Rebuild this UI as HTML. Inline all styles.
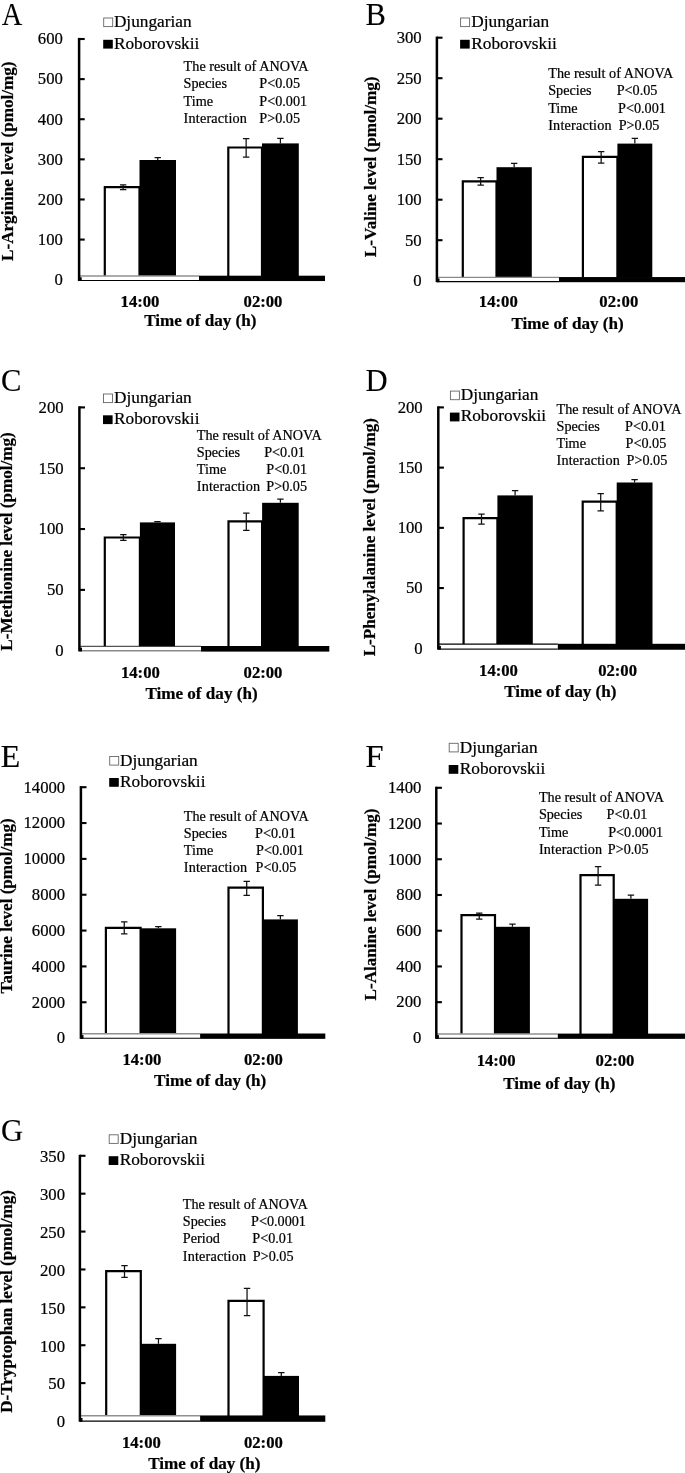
<!DOCTYPE html>
<html lang="en">
<head>
<meta charset="utf-8">
<title>Figure: amino acid levels by time of day</title>
<style>
html,body{margin:0;padding:0;background:#fff;}
body{width:685px;height:1473px;overflow:hidden;}
svg{display:block;}
text{font-family:"Liberation Serif","Times New Roman",Times,serif;fill:#000;stroke:#000;stroke-width:0.22px;}
#fig{will-change:transform;transform:translateZ(0);}
.pl{font-size:30.6px;stroke-width:0.1px;}
.r16{font-size:16.7px;}
.r17{font-size:17.3px;}
.r14{font-size:14.2px;}
.b16{font-size:16.7px;font-weight:bold;}
.b17{font-size:17.1px;font-weight:bold;}
.yl{font-size:17.1px;font-weight:bold;}
.eb{stroke:#111;stroke-width:1.25;fill:none;}
</style>
</head>
<body>
<svg id="fig" width="685" height="1473" viewBox="0 0 685 1473">
<rect x="0" y="0" width="685" height="1473" fill="#fff"/>
<g id="panel-A">
<text transform="translate(1.7,24.8) scale(0.93,1)" class="pl">A</text>
<text transform="translate(12.8,161.2) rotate(-90)" text-anchor="middle" class="yl">L-Arginine level (pmol/mg)</text>
<path d="M104.8 276.3V187.1H139.5V276.3" fill="#fff" stroke="#000" stroke-width="2.2" stroke-linejoin="miter"/>
<rect x="139.5" y="160" width="36.5" height="116.3" fill="#000"/>
<path d="M228.3 276.3V147.5H262V276.3" fill="#fff" stroke="#000" stroke-width="2.2" stroke-linejoin="miter"/>
<rect x="262" y="143.4" width="36.8" height="132.9" fill="#000"/>
<path d="M123.15 184.9V189.7M119.95 184.9h6.4M119.95 189.7h6.4" class="eb"/>
<path d="M157.75 157.5V160M154.55 157.5h6.4" class="eb"/>
<path d="M246.15 138.5V157M242.95 138.5h6.4M242.95 157h6.4" class="eb"/>
<path d="M280.4 138.4V143.4M277.2 138.4h6.4" class="eb"/>
<rect x="79.1" y="276" width="119.9" height="4.5" fill="#fff"/>
<path d="M79.1 276H199" stroke="#909090" stroke-width="1.3" fill="none"/>
<path d="M79.1 280.5H199" stroke="#000" stroke-width="1.1" fill="none"/>
<rect x="199" y="275.7" width="126" height="5.35" fill="#000"/>
<rect x="79.1" y="277.3" width="2.6" height="3.7" fill="#000"/>
<path d="M79.1 37.9V281.05" stroke="#000" stroke-width="2.5" fill="none"/>
<text x="62.9" y="285" text-anchor="end" class="r16">0</text>
<path d="M79.1 239.58h5.6" stroke="#000" stroke-width="2.1" fill="none"/>
<text x="62.9" y="244.88" text-anchor="end" class="r16">100</text>
<path d="M79.1 199.47h5.6" stroke="#000" stroke-width="2.1" fill="none"/>
<text x="62.9" y="204.77" text-anchor="end" class="r16">200</text>
<path d="M79.1 159.35h5.6" stroke="#000" stroke-width="2.1" fill="none"/>
<text x="62.9" y="164.65" text-anchor="end" class="r16">300</text>
<path d="M79.1 119.23h5.6" stroke="#000" stroke-width="2.1" fill="none"/>
<text x="62.9" y="124.53" text-anchor="end" class="r16">400</text>
<path d="M79.1 79.12h5.6" stroke="#000" stroke-width="2.1" fill="none"/>
<text x="62.9" y="84.42" text-anchor="end" class="r16">500</text>
<path d="M79.1 39h5.6" stroke="#000" stroke-width="2.1" fill="none"/>
<text x="62.9" y="44.3" text-anchor="end" class="r16">600</text>
<text x="140" y="307.1" text-anchor="middle" class="b16">14:00</text>
<text x="263" y="307.1" text-anchor="middle" class="b16">02:00</text>
<text x="200.3" y="326.3" text-anchor="middle" class="b17">Time of day (h)</text>
<rect x="103.7" y="18" width="9" height="8.6" fill="#fff" stroke="#666" stroke-width="0.9"/>
<text x="113.9" y="27.2" class="r17">Djungarian</text>
<rect x="103.2" y="39.8" width="9.6" height="8.8" fill="#000"/>
<text x="113.9" y="48.6" class="r17">Roborovskii</text>
<text x="183.6" y="70.7" class="r14" textLength="125">The result of ANOVA</text>
<text x="183.6" y="88.1" class="r14">Species</text>
<text x="259.3" y="88.1" class="r14">P&lt;0.05</text>
<text x="183.6" y="105.5" class="r14">Time</text>
<text x="259.3" y="105.5" class="r14">P&lt;0.001</text>
<text x="183.6" y="122.9" class="r14" textLength="63.3">Interaction</text>
<text x="259.3" y="122.9" class="r14">P&gt;0.05</text>
</g>
<g id="panel-B">
<text transform="translate(365.5,24.9) scale(1,1)" class="pl">B</text>
<text transform="translate(375.5,166.8) rotate(-90)" text-anchor="middle" class="yl">L-Valine level (pmol/mg)</text>
<path d="M462.8 277.65V181.3H496.5V277.65" fill="#fff" stroke="#000" stroke-width="2.2" stroke-linejoin="miter"/>
<rect x="496.5" y="167.2" width="35.3" height="110.45" fill="#000"/>
<path d="M582.9 277.65V156.8H617.4V277.65" fill="#fff" stroke="#000" stroke-width="2.2" stroke-linejoin="miter"/>
<rect x="617.4" y="143.6" width="34.9" height="134.05" fill="#000"/>
<path d="M480.65 177.5V185.1M477.45 177.5h6.4M477.45 185.1h6.4" class="eb"/>
<path d="M514.15 163.4V167.2M510.95 163.4h6.4" class="eb"/>
<path d="M601.15 151.5V163.1M597.95 151.5h6.4M597.95 163.1h6.4" class="eb"/>
<path d="M634.85 138.4V143.6M631.65 138.4h6.4" class="eb"/>
<rect x="436.9" y="277.35" width="122.1" height="4.3" fill="#fff"/>
<path d="M436.9 277.35H559" stroke="#8a8a8a" stroke-width="1.1" fill="none"/>
<path d="M436.9 281.65H559" stroke="#000" stroke-width="1.1" fill="none"/>
<rect x="559" y="277.05" width="126" height="5.15" fill="#000"/>
<rect x="436.9" y="278.45" width="2.6" height="3.7" fill="#000"/>
<path d="M436.9 36.6V282.2" stroke="#000" stroke-width="2.5" fill="none"/>
<text x="421.7" y="286" text-anchor="end" class="r16">0</text>
<path d="M436.9 240.2h5.6" stroke="#000" stroke-width="2.1" fill="none"/>
<text x="421.7" y="245.5" text-anchor="end" class="r16">50</text>
<path d="M436.9 199.7h5.6" stroke="#000" stroke-width="2.1" fill="none"/>
<text x="421.7" y="205" text-anchor="end" class="r16">100</text>
<path d="M436.9 159.2h5.6" stroke="#000" stroke-width="2.1" fill="none"/>
<text x="421.7" y="164.5" text-anchor="end" class="r16">150</text>
<path d="M436.9 118.7h5.6" stroke="#000" stroke-width="2.1" fill="none"/>
<text x="421.7" y="124" text-anchor="end" class="r16">200</text>
<path d="M436.9 78.2h5.6" stroke="#000" stroke-width="2.1" fill="none"/>
<text x="421.7" y="83.5" text-anchor="end" class="r16">250</text>
<path d="M436.9 37.7h5.6" stroke="#000" stroke-width="2.1" fill="none"/>
<text x="421.7" y="43" text-anchor="end" class="r16">300</text>
<text x="498.3" y="307.4" text-anchor="middle" class="b16">14:00</text>
<text x="618.8" y="307.4" text-anchor="middle" class="b16">02:00</text>
<text x="567.6" y="329" text-anchor="middle" class="b17">Time of day (h)</text>
<rect x="460.6" y="18" width="9" height="8.6" fill="#fff" stroke="#666" stroke-width="0.9"/>
<text x="471.3" y="27.2" class="r17">Djungarian</text>
<rect x="460.1" y="39.8" width="9.6" height="8.8" fill="#000"/>
<text x="471.3" y="48.6" class="r17">Roborovskii</text>
<text x="548.2" y="77.7" class="r14" textLength="125">The result of ANOVA</text>
<text x="548.2" y="95.1" class="r14">Species</text>
<text x="616.7" y="95.1" class="r14">P&lt;0.05</text>
<text x="548.2" y="112.5" class="r14">Time</text>
<text x="618" y="112.5" class="r14">P&lt;0.001</text>
<text x="548.2" y="129.9" class="r14" textLength="63.3">Interaction</text>
<text x="618.7" y="129.9" class="r14">P&gt;0.05</text>
</g>
<g id="panel-C">
<text transform="translate(0.9,391.2) scale(1,1)" class="pl">C</text>
<text transform="translate(12.0,541.5) rotate(-90)" text-anchor="middle" class="yl">L-Methionine level (pmol/mg)</text>
<path d="M104.8 646.6V537.5H139.9V646.6" fill="#fff" stroke="#000" stroke-width="2.2" stroke-linejoin="miter"/>
<rect x="139.9" y="522.4" width="35.1" height="124.2" fill="#000"/>
<path d="M228.5 646.6V521.3H262.1V646.6" fill="#fff" stroke="#000" stroke-width="2.2" stroke-linejoin="miter"/>
<rect x="262.1" y="502.8" width="36.6" height="143.8" fill="#000"/>
<path d="M123.35 534.7V540.3M120.15 534.7h6.4M120.15 540.3h6.4" class="eb"/>
<path d="M157.45 521.5V522.4M154.25 521.5h6.4" class="eb"/>
<path d="M246.3 513V530.3M243.1 513h6.4M243.1 530.3h6.4" class="eb"/>
<path d="M280.4 499.1V502.8M277.2 499.1h6.4" class="eb"/>
<rect x="79.4" y="646.3" width="121.6" height="4.55" fill="#fff"/>
<path d="M79.4 646.3H201" stroke="#111" stroke-width="0.9" fill="none"/>
<path d="M79.4 650.85H201" stroke="#8a8a8a" stroke-width="1.5" fill="none"/>
<rect x="201" y="646" width="128.3" height="5.6" fill="#000"/>
<rect x="79.4" y="647.65" width="2.6" height="3.7" fill="#000"/>
<path d="M79.4 406.3V651.4" stroke="#000" stroke-width="2.5" fill="none"/>
<text x="63.6" y="656" text-anchor="end" class="r16">0</text>
<path d="M79.4 589.88h5.6" stroke="#000" stroke-width="2.1" fill="none"/>
<text x="63.6" y="595.17" text-anchor="end" class="r16">50</text>
<path d="M79.4 529.05h5.6" stroke="#000" stroke-width="2.1" fill="none"/>
<text x="63.6" y="534.35" text-anchor="end" class="r16">100</text>
<path d="M79.4 468.23h5.6" stroke="#000" stroke-width="2.1" fill="none"/>
<text x="63.6" y="473.53" text-anchor="end" class="r16">150</text>
<path d="M79.4 407.4h5.6" stroke="#000" stroke-width="2.1" fill="none"/>
<text x="63.6" y="412.7" text-anchor="end" class="r16">200</text>
<text x="140.4" y="677.8" text-anchor="middle" class="b16">14:00</text>
<text x="263" y="677.8" text-anchor="middle" class="b16">02:00</text>
<text x="201.5" y="699.3" text-anchor="middle" class="b17">Time of day (h)</text>
<rect x="103.5" y="394" width="9" height="8.6" fill="#fff" stroke="#666" stroke-width="0.9"/>
<text x="114" y="403.2" class="r17">Djungarian</text>
<rect x="103" y="415.3" width="9.6" height="8.8" fill="#000"/>
<text x="114" y="424.1" class="r17">Roborovskii</text>
<text x="196.8" y="439.6" class="r14" textLength="125">The result of ANOVA</text>
<text x="196.8" y="456.8" class="r14">Species</text>
<text x="264.2" y="456.8" class="r14">P&lt;0.01</text>
<text x="196.8" y="474" class="r14">Time</text>
<text x="266.3" y="474" class="r14">P&lt;0.01</text>
<text x="196.8" y="491.2" class="r14" textLength="63.3">Interaction</text>
<text x="266.3" y="491.2" class="r14">P&gt;0.05</text>
</g>
<g id="panel-D">
<text transform="translate(365.6,391) scale(1,1)" class="pl">D</text>
<text transform="translate(375.2,537.15) rotate(-90)" text-anchor="middle" class="yl">L-Phenylalanine level (pmol/mg)</text>
<path d="M463.6 644.4V518.2H497.4V644.4" fill="#fff" stroke="#000" stroke-width="2.2" stroke-linejoin="miter"/>
<rect x="497.4" y="495.4" width="35.4" height="149" fill="#000"/>
<path d="M582.7 644.4V501.7H616.7V644.4" fill="#fff" stroke="#000" stroke-width="2.2" stroke-linejoin="miter"/>
<rect x="616.7" y="482.5" width="35.8" height="161.9" fill="#000"/>
<path d="M481.5 514V524M478.3 514h6.4M478.3 524h6.4" class="eb"/>
<path d="M515.1 490.6V495.4M511.9 490.6h6.4" class="eb"/>
<path d="M600.7 493.6V510.9M597.5 493.6h6.4M597.5 510.9h6.4" class="eb"/>
<path d="M634.6 479.5V482.5M631.4 479.5h6.4" class="eb"/>
<rect x="438.3" y="644.1" width="119.5" height="5" fill="#fff"/>
<path d="M438.3 644.1H557.8" stroke="#000" stroke-width="1.2" fill="none"/>
<path d="M438.3 649.1H557.8" stroke="#111" stroke-width="1.3" fill="none"/>
<rect x="557.8" y="643.8" width="127.2" height="5.95" fill="#000"/>
<rect x="438.3" y="645.9" width="2.6" height="3.7" fill="#000"/>
<path d="M438.3 406.3V649.65" stroke="#000" stroke-width="2.5" fill="none"/>
<text x="422.7" y="653.6" text-anchor="end" class="r16">0</text>
<path d="M438.3 588.07h5.6" stroke="#000" stroke-width="2.1" fill="none"/>
<text x="422.7" y="593.37" text-anchor="end" class="r16">50</text>
<path d="M438.3 527.85h5.6" stroke="#000" stroke-width="2.1" fill="none"/>
<text x="422.7" y="533.15" text-anchor="end" class="r16">100</text>
<path d="M438.3 467.62h5.6" stroke="#000" stroke-width="2.1" fill="none"/>
<text x="422.7" y="472.93" text-anchor="end" class="r16">150</text>
<path d="M438.3 407.4h5.6" stroke="#000" stroke-width="2.1" fill="none"/>
<text x="422.7" y="412.7" text-anchor="end" class="r16">200</text>
<text x="498.5" y="675.8" text-anchor="middle" class="b16">14:00</text>
<text x="617.6" y="675.8" text-anchor="middle" class="b16">02:00</text>
<text x="560.3" y="697.3" text-anchor="middle" class="b17">Time of day (h)</text>
<rect x="450.4" y="391.1" width="9" height="8.6" fill="#fff" stroke="#666" stroke-width="0.9"/>
<text x="460.7" y="400.3" class="r17">Djungarian</text>
<rect x="449.9" y="412.6" width="9.6" height="8.8" fill="#000"/>
<text x="460.7" y="421.4" class="r17">Roborovskii</text>
<text x="556.5" y="413.9" class="r14" textLength="125">The result of ANOVA</text>
<text x="556.5" y="431.05" class="r14">Species</text>
<text x="625.0" y="431.05" class="r14">P&lt;0.01</text>
<text x="556.5" y="448.2" class="r14">Time</text>
<text x="625.5" y="448.2" class="r14">P&lt;0.05</text>
<text x="556.5" y="465.35" class="r14" textLength="63.3">Interaction</text>
<text x="626.5" y="465.35" class="r14">P&gt;0.05</text>
</g>
<g id="panel-E">
<text transform="translate(0.4,766.9) scale(1.06,1)" class="pl">E</text>
<text transform="translate(11.7,905.9) rotate(-90)" text-anchor="middle" class="yl">Taurine level (pmol/mg)</text>
<path d="M105.9 1034.1V927.9H140.6V1034.1" fill="#fff" stroke="#000" stroke-width="2.2" stroke-linejoin="miter"/>
<rect x="140.6" y="928.3" width="35.5" height="105.8" fill="#000"/>
<path d="M228.5 1034.1V887.7H262.9V1034.1" fill="#fff" stroke="#000" stroke-width="2.2" stroke-linejoin="miter"/>
<rect x="262.9" y="919.4" width="35" height="114.7" fill="#000"/>
<path d="M124.25 921.9V933.9M121.05 921.9h6.4M121.05 933.9h6.4" class="eb"/>
<path d="M158.35 926.5V928.3M155.15 926.5h6.4" class="eb"/>
<path d="M246.7 881.4V895.4M243.5 881.4h6.4M243.5 895.4h6.4" class="eb"/>
<path d="M280.4 915.7V919.4M277.2 915.7h6.4" class="eb"/>
<rect x="80.9" y="1033.8" width="119.2" height="4.5" fill="#fff"/>
<path d="M80.9 1033.8H200.1" stroke="#909090" stroke-width="1.5" fill="none"/>
<path d="M80.9 1038.3H200.1" stroke="#000" stroke-width="1.1" fill="none"/>
<rect x="200.1" y="1033.5" width="125.2" height="5.35" fill="#000"/>
<rect x="80.9" y="1035.1" width="2.6" height="3.7" fill="#000"/>
<path d="M80.9 786.1V1038.85" stroke="#000" stroke-width="2.5" fill="none"/>
<text x="65.2" y="1043.4" text-anchor="end" class="r16">0</text>
<path d="M80.9 1002.26h5.6" stroke="#000" stroke-width="2.1" fill="none"/>
<text x="65.2" y="1007.56" text-anchor="end" class="r16">2000</text>
<path d="M80.9 966.41h5.6" stroke="#000" stroke-width="2.1" fill="none"/>
<text x="65.2" y="971.71" text-anchor="end" class="r16">4000</text>
<path d="M80.9 930.57h5.6" stroke="#000" stroke-width="2.1" fill="none"/>
<text x="65.2" y="935.87" text-anchor="end" class="r16">6000</text>
<path d="M80.9 894.73h5.6" stroke="#000" stroke-width="2.1" fill="none"/>
<text x="65.2" y="900.03" text-anchor="end" class="r16">8000</text>
<path d="M80.9 858.89h5.6" stroke="#000" stroke-width="2.1" fill="none"/>
<text x="65.2" y="864.19" text-anchor="end" class="r16">10000</text>
<path d="M80.9 823.04h5.6" stroke="#000" stroke-width="2.1" fill="none"/>
<text x="65.2" y="828.34" text-anchor="end" class="r16">12000</text>
<path d="M80.9 787.2h5.6" stroke="#000" stroke-width="2.1" fill="none"/>
<text x="65.2" y="792.5" text-anchor="end" class="r16">14000</text>
<text x="141.9" y="1064.7" text-anchor="middle" class="b16">14:00</text>
<text x="263.4" y="1064.7" text-anchor="middle" class="b16">02:00</text>
<text x="210.2" y="1085.8" text-anchor="middle" class="b17">Time of day (h)</text>
<rect x="109.7" y="756.5" width="9" height="8.6" fill="#fff" stroke="#666" stroke-width="0.9"/>
<text x="120" y="765.7" class="r17">Djungarian</text>
<rect x="109.2" y="778" width="9.6" height="8.8" fill="#000"/>
<text x="120" y="786.8" class="r17">Roborovskii</text>
<text x="183.8" y="820.6" class="r14" textLength="125">The result of ANOVA</text>
<text x="183.8" y="837.8" class="r14">Species</text>
<text x="255" y="837.8" class="r14">P&lt;0.01</text>
<text x="183.8" y="855" class="r14">Time</text>
<text x="256" y="855" class="r14">P&lt;0.001</text>
<text x="183.8" y="872.2" class="r14" textLength="63.3">Interaction</text>
<text x="255.5" y="872.2" class="r14">P&lt;0.05</text>
</g>
<g id="panel-F">
<text transform="translate(365.2,767.2) scale(1.08,1)" class="pl">F</text>
<text transform="translate(375.8,904.5) rotate(-90)" text-anchor="middle" class="yl">L-Alanine level (pmol/mg)</text>
<path d="M461.5 1034.2V915.2H495V1034.2" fill="#fff" stroke="#000" stroke-width="2.2" stroke-linejoin="miter"/>
<rect x="495" y="926.8" width="34.9" height="107.4" fill="#000"/>
<path d="M580.5 1034.2V875.1H613.7V1034.2" fill="#fff" stroke="#000" stroke-width="2.2" stroke-linejoin="miter"/>
<rect x="613.7" y="898.8" width="34.4" height="135.4" fill="#000"/>
<path d="M479.25 913.2V919M476.05 913.2h6.4M476.05 919h6.4" class="eb"/>
<path d="M512.45 924.2V926.8M509.25 924.2h6.4" class="eb"/>
<path d="M598.1 866.6V885.1M594.9 866.6h6.4M594.9 885.1h6.4" class="eb"/>
<path d="M630.9 895.1V898.8M627.7 895.1h6.4" class="eb"/>
<rect x="436.3" y="1033.9" width="121.5" height="4.4" fill="#fff"/>
<path d="M436.3 1033.9H557.8" stroke="#909090" stroke-width="1.5" fill="none"/>
<path d="M436.3 1038.3H557.8" stroke="#000" stroke-width="1.1" fill="none"/>
<rect x="557.8" y="1033.6" width="127.2" height="5.25" fill="#000"/>
<rect x="436.3" y="1035.1" width="2.6" height="3.7" fill="#000"/>
<path d="M436.3 786.7V1038.85" stroke="#000" stroke-width="2.5" fill="none"/>
<text x="421.4" y="1043.2" text-anchor="end" class="r16">0</text>
<path d="M436.3 1002.17h5.6" stroke="#000" stroke-width="2.1" fill="none"/>
<text x="421.4" y="1007.47" text-anchor="end" class="r16">200</text>
<path d="M436.3 966.44h5.6" stroke="#000" stroke-width="2.1" fill="none"/>
<text x="421.4" y="971.74" text-anchor="end" class="r16">400</text>
<path d="M436.3 930.71h5.6" stroke="#000" stroke-width="2.1" fill="none"/>
<text x="421.4" y="936.01" text-anchor="end" class="r16">600</text>
<path d="M436.3 894.99h5.6" stroke="#000" stroke-width="2.1" fill="none"/>
<text x="421.4" y="900.29" text-anchor="end" class="r16">800</text>
<path d="M436.3 859.26h5.6" stroke="#000" stroke-width="2.1" fill="none"/>
<text x="421.4" y="864.56" text-anchor="end" class="r16">1000</text>
<path d="M436.3 823.53h5.6" stroke="#000" stroke-width="2.1" fill="none"/>
<text x="421.4" y="828.83" text-anchor="end" class="r16">1200</text>
<path d="M436.3 787.8h5.6" stroke="#000" stroke-width="2.1" fill="none"/>
<text x="421.4" y="793.1" text-anchor="end" class="r16">1400</text>
<text x="496.1" y="1065.9" text-anchor="middle" class="b16">14:00</text>
<text x="615" y="1065.9" text-anchor="middle" class="b16">02:00</text>
<text x="559.4" y="1088.6" text-anchor="middle" class="b17">Time of day (h)</text>
<rect x="449.2" y="743.3" width="9" height="8.6" fill="#fff" stroke="#666" stroke-width="0.9"/>
<text x="459.8" y="752.5" class="r17">Djungarian</text>
<rect x="448.7" y="765" width="9.6" height="8.8" fill="#000"/>
<text x="459.8" y="773.8" class="r17">Roborovskii</text>
<text x="538.9" y="802.1" class="r14" textLength="125">The result of ANOVA</text>
<text x="538.9" y="819.35" class="r14">Species</text>
<text x="606.6" y="819.35" class="r14">P&lt;0.01</text>
<text x="538.9" y="836.6" class="r14">Time</text>
<text x="608.2" y="836.6" class="r14">P&lt;0.0001</text>
<text x="538.9" y="853.85" class="r14" textLength="63.3">Interaction</text>
<text x="607.8" y="853.85" class="r14">P&gt;0.05</text>
</g>
<g id="panel-G">
<text transform="translate(1.0,1140.8) scale(1,1)" class="pl">G</text>
<text transform="translate(11.7,1301.4) rotate(-90)" text-anchor="middle" class="yl">D-Tryptophan level (pmol/mg)</text>
<path d="M106.2 1416.05V1271.2H140.8V1416.05" fill="#fff" stroke="#000" stroke-width="2.2" stroke-linejoin="miter"/>
<rect x="140.8" y="1343.8" width="35.3" height="72.25" fill="#000"/>
<path d="M228.5 1416.05V1300.9H263.6V1416.05" fill="#fff" stroke="#000" stroke-width="2.2" stroke-linejoin="miter"/>
<rect x="263.6" y="1375.9" width="35.4" height="40.15" fill="#000"/>
<path d="M124.5 1265.7V1277.4M121.3 1265.7h6.4M121.3 1277.4h6.4" class="eb"/>
<path d="M158.45 1338.6V1343.8M155.25 1338.6h6.4" class="eb"/>
<path d="M247.05 1288.4V1315.7M243.85 1288.4h6.4M243.85 1315.7h6.4" class="eb"/>
<path d="M281.3 1372.6V1375.9M278.1 1372.6h6.4" class="eb"/>
<rect x="79.9" y="1415.75" width="120.2" height="5.45" fill="#fff"/>
<path d="M79.9 1415.75H200.1" stroke="#909090" stroke-width="1.5" fill="none"/>
<path d="M79.9 1421.2H200.1" stroke="#000" stroke-width="1.2" fill="none"/>
<rect x="200.1" y="1415.45" width="125.2" height="6.35" fill="#000"/>
<rect x="79.9" y="1418" width="2.6" height="3.7" fill="#000"/>
<path d="M79.9 1154.7V1421.75" stroke="#000" stroke-width="2.5" fill="none"/>
<text x="65" y="1427.3" text-anchor="end" class="r16">0</text>
<path d="M79.9 1383.11h5.6" stroke="#000" stroke-width="2.1" fill="none"/>
<text x="65" y="1389.41" text-anchor="end" class="r16">50</text>
<path d="M79.9 1345.23h5.6" stroke="#000" stroke-width="2.1" fill="none"/>
<text x="65" y="1351.53" text-anchor="end" class="r16">100</text>
<path d="M79.9 1307.34h5.6" stroke="#000" stroke-width="2.1" fill="none"/>
<text x="65" y="1313.64" text-anchor="end" class="r16">150</text>
<path d="M79.9 1269.46h5.6" stroke="#000" stroke-width="2.1" fill="none"/>
<text x="65" y="1275.76" text-anchor="end" class="r16">200</text>
<path d="M79.9 1231.57h5.6" stroke="#000" stroke-width="2.1" fill="none"/>
<text x="65" y="1237.87" text-anchor="end" class="r16">250</text>
<path d="M79.9 1193.69h5.6" stroke="#000" stroke-width="2.1" fill="none"/>
<text x="65" y="1199.99" text-anchor="end" class="r16">300</text>
<path d="M79.9 1155.8h5.6" stroke="#000" stroke-width="2.1" fill="none"/>
<text x="65" y="1162.1" text-anchor="end" class="r16">350</text>
<text x="141.4" y="1448.2" text-anchor="middle" class="b16">14:00</text>
<text x="263.4" y="1448.2" text-anchor="middle" class="b16">02:00</text>
<text x="204.3" y="1469" text-anchor="middle" class="b17">Time of day (h)</text>
<rect x="109.2" y="1134.8" width="9" height="8.6" fill="#fff" stroke="#666" stroke-width="0.9"/>
<text x="119.7" y="1144" class="r17">Djungarian</text>
<rect x="108.7" y="1156.2" width="9.6" height="8.8" fill="#000"/>
<text x="119.7" y="1165" class="r17">Roborovskii</text>
<text x="182.8" y="1208.5" class="r14" textLength="125">The result of ANOVA</text>
<text x="182.8" y="1225.85" class="r14">Species</text>
<text x="251" y="1225.85" class="r14">P&lt;0.0001</text>
<text x="182.8" y="1243.2" class="r14">Period</text>
<text x="252.3" y="1243.2" class="r14">P&lt;0.01</text>
<text x="182.8" y="1260.55" class="r14" textLength="63.3">Interaction</text>
<text x="252.8" y="1260.55" class="r14">P&gt;0.05</text>
</g>
</svg>
</body>
</html>
